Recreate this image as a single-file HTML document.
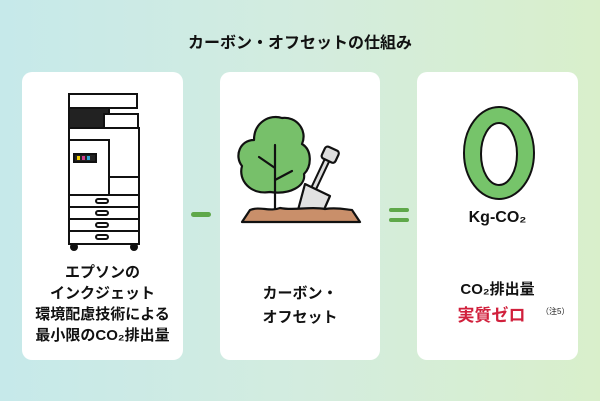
<!DOCTYPE html>
<html><head><meta charset="utf-8"><style>
body{margin:0;width:600px;height:401px;overflow:hidden;background:linear-gradient(90deg,#c6e9ea 0%,#d3ecdf 50%,#d9efcb 100%);font-family:"Liberation Sans","Noto Sans CJK JP",sans-serif;position:relative}
.card{position:absolute;top:72px;height:288px;background:#fff;border-radius:10px}
.t{position:absolute;left:0;right:0;text-align:center;font-weight:bold;color:#111}
</style></head><body>
<div class="t" style="top:29px;font-size:16px">カーボン・オフセットの仕組み</div>
<div class="card" style="left:22px;width:161px">
<svg style="position:absolute;left:42px;top:20px" width="80" height="160" viewBox="0 0 80 160" fill="#fff" stroke="#111" stroke-width="2">
<rect x="5" y="2" width="68" height="14"/><rect x="5" y="16" width="40" height="20" fill="#222"/><rect x="40" y="22" width="34" height="14"/>
<rect x="5" y="36" width="70" height="116"/><rect x="5" y="48" width="40" height="55"/><rect x="45" y="85" width="30" height="18"/>
<rect x="10" y="62" width="22" height="8" fill="#222"/>
<rect x="13" y="64" width="3" height="4" fill="#f4d000" stroke="none"/><rect x="18" y="64" width="3" height="4" fill="#d23c8c" stroke="none"/><rect x="23" y="64" width="3" height="4" fill="#2fa7d8" stroke="none"/>
<line x1="5" y1="115" x2="75" y2="115"/><line x1="5" y1="127" x2="75" y2="127"/><line x1="5" y1="139" x2="75" y2="139"/>
<rect x="32" y="107" width="12" height="4" rx="2"/><rect x="32" y="119" width="12" height="4" rx="2"/><rect x="32" y="131" width="12" height="4" rx="2"/><rect x="32" y="143" width="12" height="4" rx="2"/>
<circle cx="10" cy="155" r="3" fill="#111"/><circle cx="70" cy="155" r="3" fill="#111"/>
</svg>
<div class="t" style="top:190px;font-size:15px;line-height:21px">エプソンの<br>インクジェット<br>環境配慮技術による<br>最小限のCO₂排出量</div>
</div>
<div style="position:absolute;left:191px;top:212px;width:20px;height:5px;border-radius:3px;background:#5fa84a"></div>
<div class="card" style="left:220px;width:160px">
<svg style="position:absolute;left:0;top:28px" width="160" height="130" viewBox="0 0 160 130" stroke="#111" stroke-width="2.2" stroke-linejoin="round" stroke-linecap="round">
<path d="M50 92 C30 95 18 80 22 66 C14 56 20 40 34 40 C34 22 50 14 62 18 C76 16 88 30 82 44 C92 50 92 66 84 74 C86 86 70 95 50 92Z" fill="#77c06a"/>
<path d="M55 115 V45 M55 68 L39 57 M55 80 L72 71" fill="none"/>
<path d="M108 58 L92 92" stroke-width="7"/><path d="M108 58 L92 92" stroke-width="3" stroke="#ddd"/>
<rect x="103" y="48" width="15" height="13" rx="3" fill="#ddd" transform="rotate(25 110 54)"/>
<path d="M85 84 L110 96 L103 112 L78 110 Z" fill="#e2e2e2"/>
<path d="M22 122 L30 110 C40 106 50 112 60 108 C75 111 90 106 105 109 C118 107 128 110 132 110 L140 122Z" fill="#c98f6a"/>
</svg>
<div class="t" style="top:210px;font-size:15px;line-height:24px">カーボン・<br>オフセット</div>
</div>
<div style="position:absolute;left:389px;top:208px;width:20px;height:4px;border-radius:2px;background:#5fa84a"></div>
<div style="position:absolute;left:389px;top:218px;width:20px;height:4px;border-radius:2px;background:#5fa84a"></div>
<div class="card" style="left:417px;width:161px">
<svg style="position:absolute;left:44px;top:33px" width="76" height="98" viewBox="0 0 76 98"><ellipse cx="38" cy="48" rx="35" ry="46" fill="#76c46a" stroke="#111" stroke-width="2"/><ellipse cx="38" cy="49" rx="18" ry="31" fill="#fff" stroke="#111" stroke-width="2"/></svg>
<div class="t" style="top:137px;font-size:16px">Kg-CO₂</div>
<div class="t" style="top:206px;font-size:15px">CO₂排出量</div>
<div class="t" style="top:229px;font-size:17px;color:#d1203c;left:-12px">実質ゼロ</div>
<div style="position:absolute;left:124px;top:234px;font-size:8px;color:#222">（注5）</div>
</div>
</body></html>
